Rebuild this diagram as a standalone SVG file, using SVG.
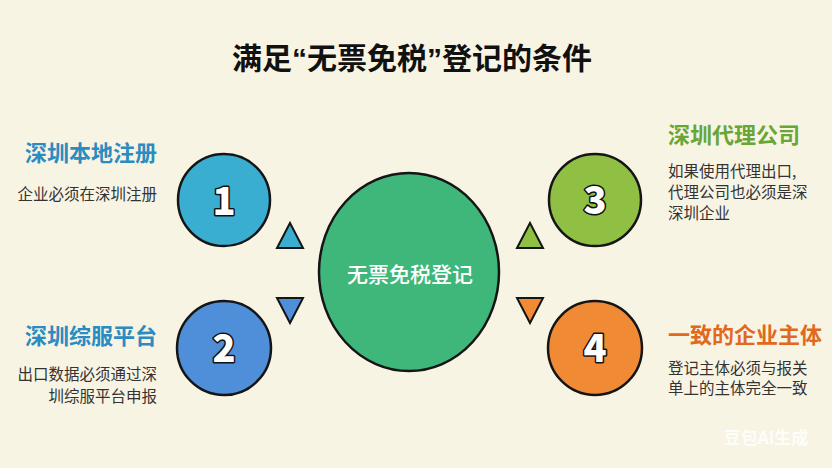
<svg xmlns="http://www.w3.org/2000/svg" width="832" height="468" viewBox="0 0 832 468">
<style>
  text { font-family: "Noto Sans CJK SC", "Noto Sans", sans-serif; }
  .title { font-size: 30px; font-weight: 700; fill: #111; }
  .q { font-family: "Liberation Sans", "Noto Sans CJK SC", sans-serif; }
  .head { font-size: 22px; font-weight: 700; }
  .desc { font-size: 15.5px; fill: #333; }
  .num { font-size: 38px; font-weight: 900; fill: #fff; stroke: #111; stroke-width: 3; paint-order: stroke; stroke-linejoin: round; }
  .circ { stroke: #151515; stroke-width: 2.5; }
  .tri { stroke: #151515; stroke-width: 2; stroke-linejoin: miter; }
  .center-label { font-size: 21px; font-weight: 500; fill: #fff; }
  .mark { font-size: 17px; font-weight: 700; fill: #fff; opacity: 0.85; }
</style>
<rect width="832" height="468" fill="#f8f4e4"/>
<text class="title" x="412" y="69" text-anchor="middle">满足<tspan class="q">“</tspan>无票免税<tspan class="q">”</tspan>登记的条件</text>

<g id="center">
  <ellipse class="circ" cx="409" cy="272" rx="90" ry="99" fill="#3fb77a"/>
  <text class="center-label" x="410" y="282" text-anchor="middle">无票免税登记</text>
</g>

<g id="node1">
  <circle class="circ" cx="224" cy="200" r="46" fill="#3aaed0"/>
  <text class="num" x="224" y="215" text-anchor="middle">1</text>
  <text class="head" x="157" y="161" text-anchor="end" fill="#2a8cc0">深圳本地注册</text>
  <text class="desc" x="157" y="200" text-anchor="end">企业必须在深圳注册</text>
</g>

<g id="node2">
  <circle class="circ" cx="224" cy="348" r="47" fill="#4f8ed8"/>
  <text class="num" x="224" y="362" text-anchor="middle">2</text>
  <text class="head" x="157" y="344" text-anchor="end" fill="#2a8cc0">深圳综服平台</text>
  <text class="desc" x="157" y="380" text-anchor="end">出口数据必须通过深</text>
  <text class="desc" x="157" y="402" text-anchor="end">圳综服平台申报</text>
</g>

<g id="node3">
  <circle class="circ" cx="595" cy="200" r="46" fill="#8fc043"/>
  <text class="num" x="595" y="214" text-anchor="middle">3</text>
  <text class="head" x="668" y="143" fill="#6aa635">深圳代理公司</text>
  <text class="desc" x="668" y="177">如果使用代理出口,</text>
  <text class="desc" x="668" y="198">代理公司也必须是深</text>
  <text class="desc" x="668" y="219">深圳企业</text>
</g>

<g id="node4">
  <circle class="circ" cx="595" cy="348" r="47" fill="#f08a35"/>
  <text class="num" x="595" y="362" text-anchor="middle">4</text>
  <text class="head" x="668" y="343" fill="#e0691c">一致的企业主体</text>
  <text class="desc" x="668" y="374">登记主体必须与报关</text>
  <text class="desc" x="668" y="394">单上的主体完全一致</text>
</g>

<g id="connectors">
  <polygon class="tri" points="290,223 303,248 277,248" fill="#3aaed0"/>
  <polygon class="tri" points="277,298 303,298 290,323" fill="#4f8ed8"/>
  <polygon class="tri" points="530,223 543,248 517,248" fill="#8fc043"/>
  <polygon class="tri" points="517,298 543,298 530,323" fill="#f08a35"/>
</g>

<text class="mark" x="766" y="444" text-anchor="middle">豆包AI生成</text>
</svg>
